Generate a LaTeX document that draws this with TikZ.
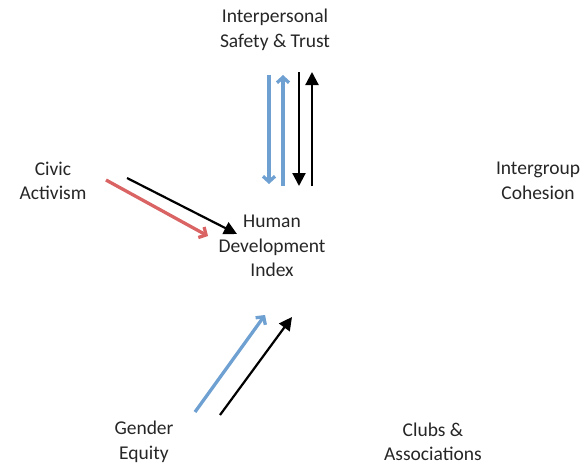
\documentclass[tikz,border=0pt]{standalone}
\usepackage{fontspec}
\setmainfont{Carlito}
\usetikzlibrary{arrows.meta}
\definecolor{linkblue}{RGB}{110,160,210}
\definecolor{linkred}{RGB}{218,100,100}

\begin{document}
\begin{tikzpicture}[x=1pt, y=-1pt,
    lbl/.style={align=center, font=\fontsize{19.5}{24.5}\selectfont, text=black!85},
    blk/.style={line width=2.2pt, -{Triangle[width=13pt,length=13pt]}},
    col/.style={line width=3.3pt, -{Straight Barb[width=12pt,length=5.5pt,line width=3.3pt]}}]
    \useasboundingbox (0, 0) rectangle (584, 467);
    \node[lbl] (trust) at (275, 30) {Interpersonal\\Safety \& Trust};
    \node[lbl] (civic) at (53, 181) {Civic\\Activism};
    \node[lbl] (cohesion) at (538, 181) {Intergroup\\Cohesion};
    \node[lbl] (hdi) at (272, 246) {Human\\Development\\Index};
    \node[lbl] (gender) at (144, 442) {Gender\\Equity};
    \node[lbl] (clubs) at (433, 442) {Clubs \&\\Associations};

    % top pair
    \coordinate (bdtop) at (269, 75);
    \coordinate (bdbot) at (269, 184);
    \coordinate (butop) at (283, 75);
    \coordinate (bubot) at (283, 186);
    \coordinate (kdtop) at (299, 72);
    \coordinate (kdbot) at (299, 186);
    \coordinate (kutop) at (312, 72);
    \coordinate (kubot) at (312, 186);
    \draw[col, linkblue] (bdtop) -- (bdbot);
    \draw[col, linkblue] (bubot) -- (butop);
    \draw[blk] (kdtop) -- (kdbot);
    \draw[blk] (kubot) -- (kutop);

    % left pair
    \coordinate (redfrom) at (106, 180);
    \coordinate (redto) at (208, 236);
    \coordinate (kfrom) at (127, 178);
    \coordinate (kto) at (237, 234);
    \draw[col, linkred] (redfrom) -- (redto);
    \draw[blk] (kfrom) -- (kto);

    % bottom pair
    \coordinate (gfrom) at (195, 412);
    \coordinate (gto) at (265, 315);
    \coordinate (hfrom) at (220, 415);
    \coordinate (hto) at (292, 317);
    \draw[col, linkblue] (gfrom) -- (gto);
    \draw[blk] (hfrom) -- (hto);
\end{tikzpicture}
\end{document}
